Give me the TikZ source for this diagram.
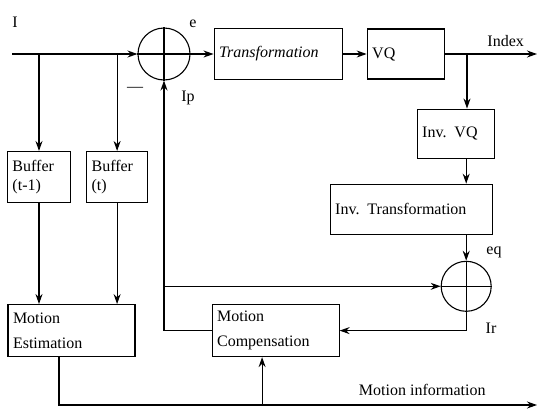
\documentclass[tikz,border=0pt]{standalone}
\usepackage{fontspec}
\setmainfont{Liberation Serif}
\usetikzlibrary{positioning, arrows.meta, calc}

\begin{document}
\begin{tikzpicture}[
  x=1pt, y=1pt,
  every node/.style={font=\fontsize{16}{19}\selectfont},
  box/.style={draw, rectangle, line width=1.1pt, align=left, inner sep=5pt},
  adder/.style={draw, circle, line width=1.1pt, inner sep=0pt, minimum size=#1},
  lbl/.style={inner sep=1pt},
  thk/.style={line width=1.1pt},
  arr/.style={-{Stealth[length=10pt, width=7pt]}, line width=1.1pt}
]
  \useasboundingbox (0,0) rectangle (539,-410);

  \node[adder=52pt] (sumE) at (164,-54) {};
  \node[box, right=23pt of sumE, text width=118pt, minimum height=51pt] (trans) {\textit{Transformation}};
  \node[box, right=24pt of trans, text width=67pt, minimum height=50pt] (vq) {VQ};
  \node[box, below=29pt of vq, xshift=50pt, text width=67pt, minimum height=49pt] (ivq) {Inv. VQ};
  \node[box, below=25pt of ivq, xshift=-44.5pt, text width=152pt, minimum height=50pt] (itr) {Inv. Transformation};
  \node[adder=50pt, below=26pt of itr, xshift=55pt] (sumR) {};

  \node[box, below=224pt of trans, xshift=-2.5pt, text width=117pt, minimum height=52pt] (mc) {Motion\\[6pt]Compensation};
  \node[box, left=76pt of mc, text width=117pt, minimum height=52pt] (me) {Motion\\[6pt]Estimation};
  \node[box, above=101pt of me, xshift=-32.5pt, text width=53pt, minimum height=51pt] (buf1) {Buffer\\(t-1)};
  \node[box, right=15pt of buf1, text width=51pt, minimum height=51pt] (buf2) {Buffer\\(t)};

  % adder crosses
  \draw[thk] (sumE.north) -- (sumE.south) (sumE.west) -- (sumE.east);
  \draw[thk] (sumR.north) -- (sumR.south) (sumR.west) -- (sumR.east);

  \coordinate (in) at (12,-54);
  \coordinate (idx) at (537,-54);
  \coordinate (tap) at (467,-54);
  \coordinate (minfo) at (537,-405);
  \coordinate (meout) at ([xshift=-12.5pt]me.south);
  \coordinate (mcin) at ([xshift=-13.5pt]mc.south);

  \draw[arr] (in) -- (sumE.west);
  \draw[arr] (in -| buf1.north) -- (buf1.north);
  \draw[arr] (in -| buf2.north) -- (buf2.north);
  \draw[arr] (buf1.south) -- (buf1.south |- me.north);
  \draw[arr] (buf2.south) -- (buf2.south |- me.north);
  \draw[arr] (sumE.east) -- (trans.west);
  \draw[arr] (trans.east) -- (vq.west);
  \draw[arr] (vq.east) -- node[lbl, pos=0.66, above=6pt] {Index} (idx);
  \draw[arr] (tap) -- (tap |- ivq.north);
  \draw[arr] (ivq.south -| sumR) -- (sumR |- itr.north);
  \draw[arr] (sumR |- itr.south) -- (sumR.north);
  \draw[arr] (mc.west) -| (sumE.south);
  \draw[arr] (sumE.south |- sumR.west) -- (sumR.west);
  \draw[arr] (sumR.south) |- (mc.east);
  \draw[arr] (meout) |- node[lbl, pos=0.88, above=8pt] {Motion information} (minfo);
  \draw[arr] (mcin |- minfo) -- (mcin);

  % signal labels
  \node[lbl] (lI) at (15,-22) {I};
  \node[lbl] (le) at (193,-24) {e};
  \node[lbl] (lminus) at (135,-89) {---};
  \node[lbl] (lIp) at (188,-98) {Ip};
  \node[lbl] (leq) at (494,-252) {eq};
  \node[lbl] (lIr) at (491,-328) {Ir};
\end{tikzpicture}
\end{document}
